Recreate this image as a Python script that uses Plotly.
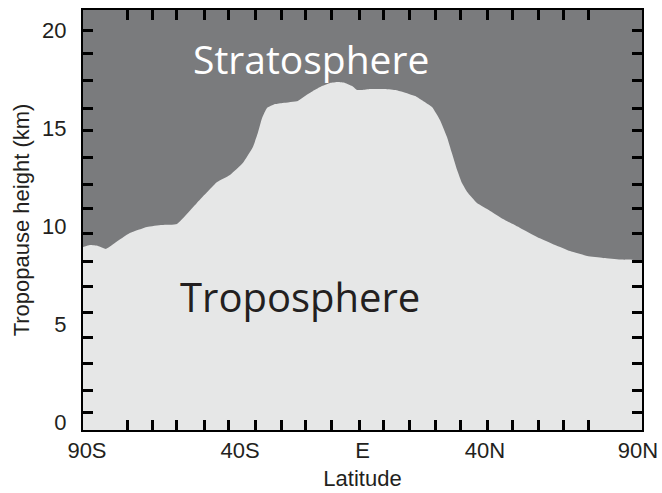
import plotly.graph_objects as go

# Tropopause boundary (latitude in degrees, height in km)
lat = [-91.3, -89.05, -86.4, -83.8, -80.9, -76.0, -70.4, -65.5, -60.6, -54.1,
       -47.5, -43.3, -39.1, -35.8, -34.2, -32.8, -31.2, -28.6, -26.0, -21.1,
       -18.8, -16.2, -13.2, -10.6, -8.0, -5.7, -3.4, -1.8, -0.2, 2.5,
       6.7, 10.6, 13.2, 17.2, 19.8, 22.7, 25.3, 27.6, 29.2, 30.9,
       32.5, 34.2, 37.4, 41.7, 45.9, 51.5, 57.0, 62.9, 67.8, 73.4,
       78.6, 84.2, 88.4, 91.3]
height = [8.93, 9.03, 8.98, 8.83, 9.13, 9.64, 9.95, 10.05, 10.10, 11.17,
          12.24, 12.60, 13.21, 14.03, 14.74, 15.51, 16.02, 16.22, 16.28, 16.38,
          16.63, 16.89, 17.14, 17.30, 17.35, 17.30, 17.14, 16.94, 16.94, 16.99,
          16.99, 16.94, 16.84, 16.63, 16.38, 16.07, 15.41, 14.54, 13.72, 12.86,
          12.19, 11.73, 11.17, 10.77, 10.36, 9.90, 9.44, 9.03, 8.72, 8.47,
          8.37, 8.29, 8.27, 8.27]

x_tickvals = [-90, -40, 0, 40, 90]
x_ticktext = ["90S", "40S", "E", "40N", "90N"]
x_minor = [-76.9, -68.5, -60.6, -51.5, -43.8, -35.1, -26.3, -18.5, -10.0, -1.1,
           6.7, 15.5, 23.7, 31.9, 40.7, 48.9, 57.4, 65.5, 73.7]
y_tickvals = [0, 5, 10, 15, 20]
y_minor = [19.95, 18.8, 17.4, 16.0, 14.85, 13.5, 12.1, 10.9, 9.6, 8.2,
           6.9, 5.6, 4.3, 3.0, 1.6, 0.46]

X_RANGE = [-91.3, 91.3]
Y_RANGE = [-0.41, 21.02]

STRAT = "#7a7b7d"
TROPO = "#e6e7e7"
INK = "#231f20"

fig = go.Figure()
# ceiling of the plot (top of the stratosphere band)
fig.add_trace(go.Scatter(x=[X_RANGE[0], X_RANGE[1]], y=[Y_RANGE[1] + 1] * 2,
                         mode="lines", line=dict(width=0), hoverinfo="skip",
                         showlegend=False))
fig.add_trace(go.Scatter(x=lat, y=height, mode="lines", fill="tonexty",
                         fillcolor=STRAT, line=dict(width=0, color=STRAT),
                         line_shape="spline", line_smoothing=0.4,
                         showlegend=False))

fig.add_annotation(text="Stratosphere", xref="paper", yref="paper",
                   x=0.408, y=0.885, xanchor="center", yanchor="middle",
                   showarrow=False,
                   font=dict(family="Open Sans", size=39, color="white"))
fig.add_annotation(text="Troposphere", xref="paper", yref="paper",
                   x=0.389, y=0.318, xanchor="center", yanchor="middle",
                   showarrow=False,
                   font=dict(family="Open Sans", size=40, color=INK))

axis_font = dict(family="Liberation Sans", size=22, color=INK)

fig.update_layout(
    width=662, height=493,
    margin=dict(l=83, r=20, t=10, b=63),
    paper_bgcolor="white",
    plot_bgcolor=TROPO,
    xaxis=dict(
        range=X_RANGE, showgrid=False, zeroline=False,
        tickmode="array", tickvals=x_tickvals, ticktext=x_ticktext,
        ticks="inside", ticklen=0, tickwidth=0, tickcolor="black",
        minor=dict(tickmode="array", tickvals=x_minor, ticks="inside",
                   ticklen=10, tickwidth=3, tickcolor="black", showgrid=False),
        showline=True, linecolor="black", linewidth=2, mirror="ticks",
        tickfont=axis_font, automargin=False,
        title=dict(text="Latitude", font=axis_font, standoff=8),
    ),
    yaxis=dict(
        range=Y_RANGE, showgrid=False, zeroline=False,
        tickmode="array", tickvals=y_tickvals,
        ticks="inside", ticklen=0, tickwidth=0, tickcolor="black",
        minor=dict(tickmode="array", tickvals=y_minor, ticks="inside",
                   ticklen=10, tickwidth=3, tickcolor="black", showgrid=False),
        showline=True, linecolor="black", linewidth=2, mirror="ticks",
        tickfont=axis_font, ticklabelstandoff=10, automargin=False,
        title=dict(text="Tropopause height (km)", font=axis_font, standoff=6),
    ),
)

fig.write_html("out.html")
